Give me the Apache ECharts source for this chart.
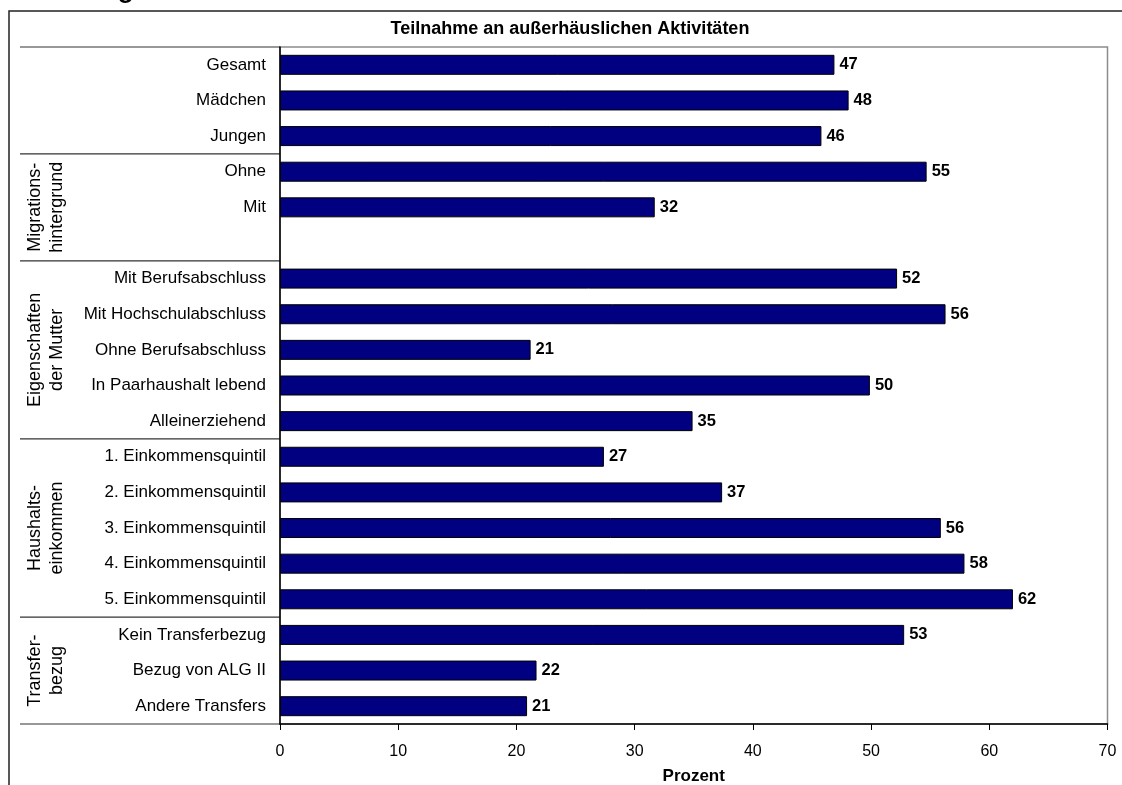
<!DOCTYPE html>
<html><head><meta charset="utf-8">
<script src="https://cdn.jsdelivr.net/npm/echarts@6/dist/echarts.min.js"></script>
<style>html,body{margin:0;padding:0;background:#fff;overflow:hidden}#c{width:1122px;height:785px}</style>
</head><body><div id="c"></div>
<script>
const categories = ['Gesamt','Mädchen','Jungen','Ohne','Mit','','Mit Berufsabschluss','Mit Hochschulabschluss','Ohne Berufsabschluss','In Paarhaushalt lebend','Alleinerziehend','1. Einkommensquintil','2. Einkommensquintil','3. Einkommensquintil','4. Einkommensquintil','5. Einkommensquintil','Kein Transferbezug','Bezug von ALG II','Andere Transfers'];
const values = [46.9,48.1,45.8,54.7,31.7,'-',52.2,56.3,21.2,49.9,34.9,27.4,37.4,55.9,57.9,62.0,52.8,21.7,20.9];
const groupNames = ['Migrations-\nhintergrund','Eigenschaften\nder Mutter','Haushalts-\neinkommen','Transfer-\nbezug'];
const groupFrom = [3,6,11,16];
const groupTo = [5,10,15,18];
const separatorsAfter = [2,5,10,15];
const chartTitle = 'Teilnahme an außerhäuslichen Aktivitäten';
const axisName = 'Prozent';
const xMin = 0, xMax = 70, xStep = 10;

const FONT = '"Liberation Sans", Arial, sans-serif';
const chart = echarts.init(document.getElementById('c'), null, {renderer:'canvas', width:1122, height:785});
chart.setOption({
  animation:false,
  backgroundColor:'#fff',
  grid:{left:280, width:827.5, top:47, height:677, show:true, borderColor:'#8c8c8c', borderWidth:1.5,
    containLabel:false, outerBoundsMode:'none'},
  xAxis:{type:'value', min:xMin, max:xMax, interval:xStep,
    name:axisName, nameLocation:'middle', nameGap:44,
    nameTextStyle:{fontFamily:FONT, fontSize:17, fontWeight:'bold', color:'#000'},
    axisLine:{show:true, lineStyle:{color:'#000', width:1.5}},
    axisTick:{show:true, length:6, lineStyle:{color:'#000'}},
    axisLabel:{fontFamily:FONT, fontSize:16, color:'#000', margin:20},
    splitLine:{show:false}},
  yAxis:{type:'category', data:categories, inverse:true,
    axisLine:{show:true, lineStyle:{color:'#000', width:1.5}},
    axisTick:{show:false},
    axisLabel:{fontFamily:FONT, fontSize:17, color:'#000', margin:14}},
  series:[{type:'bar', data:values, barWidth:20,
    itemStyle:{color:'#000080', borderColor:'#000', borderWidth:1},
    label:{show:true, position:'right', distance:5, fontFamily:FONT, fontSize:16.5, fontWeight:'bold', color:'#000',
      formatter:p => Math.round(p.value)}}]
});

const yPix = i => chart.convertToPixel({yAxisIndex:0}, i);
const step = yPix(1) - yPix(0);
const gx = chart.convertToPixel({xAxisIndex:0}, xMin);
const graphics = [];
graphics.push({type:'polyline', silent:true, shape:{points:[[9,800],[9,11],[1140,11]]}, style:{stroke:'#222', lineWidth:1.5, fill:null}});
graphics.push({type:'text', silent:true, x:5, y:4, style:{text:'Abbildung', font:'bold 26px '+FONT, fill:'#000', textAlign:'left', textVerticalAlign:'bottom'}});
graphics.push({type:'text', silent:true, x:570, y:29, style:{text:chartTitle, font:'bold 18px '+FONT, fill:'#000', textAlign:'center', textVerticalAlign:'middle'}});
const topY = yPix(0) - step/2;
const botY = yPix(categories.length-1) + step/2;
graphics.push({type:'line', silent:true, shape:{x1:20, y1:topY, x2:gx, y2:topY}, style:{stroke:'#333', lineWidth:1.2}});
graphics.push({type:'line', silent:true, shape:{x1:20, y1:botY, x2:gx, y2:botY}, style:{stroke:'#333', lineWidth:1.2}});
separatorsAfter.forEach(i => {
  const y = (yPix(i) + yPix(i+1))/2;
  graphics.push({type:'line', silent:true, shape:{x1:20, y1:y, x2:gx, y2:y}, style:{stroke:'#333', lineWidth:1.2}});
});
groupNames.forEach((n, k) => {
  const y = (yPix(groupFrom[k]) + yPix(groupTo[k]))/2;
  graphics.push({type:'text', silent:true, x:46, y:y, rotation:Math.PI/2,
    style:{text:n, font:'18px '+FONT, fill:'#000', textAlign:'center', textVerticalAlign:'middle', lineHeight:22}});
});
chart.setOption({graphic:graphics});
</script>
</body></html>
